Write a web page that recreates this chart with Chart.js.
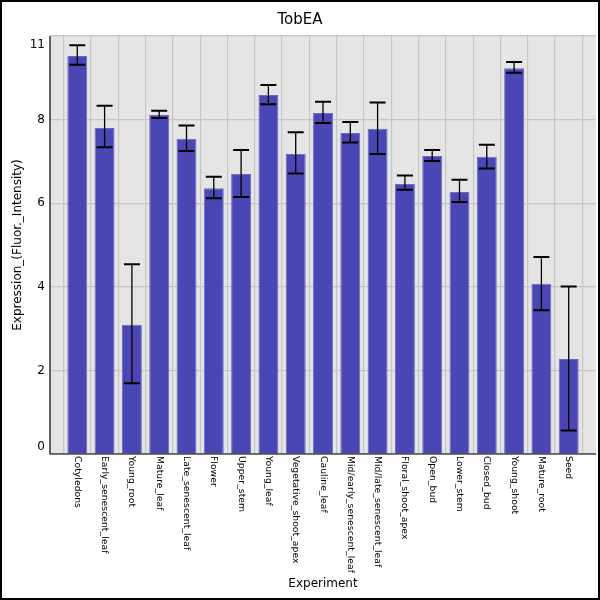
<!DOCTYPE html>
<html><head><meta charset="utf-8">
<script src="https://cdn.jsdelivr.net/npm/chart.js@4/dist/chart.umd.min.js"></script>
<style>html,body{margin:0;padding:0;background:#fff}canvas{display:block}</style>
</head><body>
<canvas id="c" width="600" height="600"></canvas>
<script>
const categories = ['Cotyledons','Early_senescent_leaf','Young_root','Mature_leaf','Late_senescent_leaf','Flower','Upper_stem','Young_leaf','Vegetative_shoot_apex','Cauline_leaf','Mid/early_senescent_leaf','Mid/late_senescent_leaf','Floral_shoot_apex','Open_bud','Lower_stem','Closed_bud','Young_shoot','Mature_root','Seed'];
const values   = [9.52, 7.80, 3.09, 8.11, 7.54, 6.36, 6.70, 8.59, 7.18, 8.16, 7.68, 7.78, 6.46, 7.13, 6.27, 7.11, 9.23, 4.07, 2.27];
const errUpper = [9.78, 8.33, 4.54, 8.21, 7.86, 6.63, 7.27, 8.83, 7.70, 8.43, 7.94, 8.41, 6.66, 7.27, 6.56, 7.40, 9.38, 4.71, 4.01];
const errLower = [9.31, 7.34, 1.69, 8.04, 7.25, 6.12, 6.15, 8.37, 6.71, 7.92, 7.45, 7.18, 6.32, 7.01, 6.03, 6.83, 9.12, 3.44, 0.56];
const yTickValues = [0, 2, 4, 6, 8, 10];
const yTickLabels = ['0', '2', '4', '6', '8', '11'];
const chartTitle = 'TobEA';
const xTitle = 'Experiment';
const yTitle = 'Expression_(Fluor._Intensity)';

const FONT = '"DejaVu Sans", sans-serif';
const points = values.map((v, i) => ({x: i + 1, y: v}));

const deco = {
  id: 'deco',
  beforeDraw(chart) {
    const {ctx, chartArea: a} = chart;
    ctx.save();
    ctx.fillStyle = '#ffffff';
    ctx.fillRect(0, 0, chart.width, chart.height);
    ctx.fillStyle = '#e5e5e5';
    ctx.fillRect(a.left, a.top, a.right - a.left, a.bottom - a.top);
    ctx.restore();
  },
  afterDatasetsDraw(chart) {
    const {ctx, chartArea: a} = chart;
    const ys = chart.scales.y;
    const meta = chart.getDatasetMeta(0);
    ctx.save();
    ctx.strokeStyle = '#000';
    meta.data.forEach((bar, i) => {
      const x = bar.x;
      const yt = ys.getPixelForValue(errUpper[i]);
      const yb = ys.getPixelForValue(errLower[i]);
      ctx.lineWidth = 1.3;
      ctx.beginPath(); ctx.moveTo(x, yt); ctx.lineTo(x, yb); ctx.stroke();
      ctx.lineWidth = 2;
      ctx.beginPath();
      ctx.moveTo(x - 8, yt); ctx.lineTo(x + 8, yt);
      ctx.moveTo(x - 8, yb); ctx.lineTo(x + 8, yb);
      ctx.stroke();
    });
    // axis lines
    ctx.lineWidth = 1.2;
    ctx.beginPath();
    ctx.moveTo(a.left, a.top); ctx.lineTo(a.left, a.bottom); ctx.lineTo(a.right, a.bottom);
    ctx.stroke();
    ctx.restore();
  },
  afterDraw(chart) {
    const {ctx, chartArea: a} = chart;
    const xs = chart.scales.x, ys = chart.scales.y;
    ctx.save();
    ctx.fillStyle = '#000';
    // title
    ctx.font = '15px ' + FONT;
    ctx.textAlign = 'center'; ctx.textBaseline = 'middle';
    ctx.fillText(chartTitle, chart.width / 2, 20);
    // y tick labels
    ctx.font = '12px ' + FONT;
    ctx.textAlign = 'right'; ctx.textBaseline = 'middle';
    yTickValues.forEach((v, i) => {
      let y = ys.getPixelForValue(v);
      y = Math.min(Math.max(y, a.top + 9), a.bottom - 7);
      ctx.fillText(yTickLabels[i], a.left - 5, y);
    });
    // x tick labels rotated clockwise
    ctx.font = '9.3px ' + FONT;
    categories.forEach((c, i) => {
      const x = xs.getPixelForValue(i + 1);
      ctx.save();
      ctx.translate(x, a.bottom + 2);
      ctx.rotate(Math.PI / 2);
      ctx.textAlign = 'left'; ctx.textBaseline = 'middle';
      ctx.fillText(c, 0, 0);
      ctx.restore();
    });
    // axis titles
    ctx.font = '12px ' + FONT;
    ctx.textAlign = 'center'; ctx.textBaseline = 'middle';
    ctx.fillText(xTitle, (a.left + a.right) / 2, 584);
    ctx.save();
    ctx.translate(18, (a.top + a.bottom) / 2);
    ctx.rotate(-Math.PI / 2);
    ctx.fillText(yTitle, 0, 0);
    ctx.restore();
    // frame
    ctx.strokeStyle = '#000';
    ctx.lineWidth = 2;
    ctx.strokeRect(1, 1, chart.width - 2, chart.height - 2);
    ctx.restore();
  }
};

new Chart(document.getElementById('c'), {
  type: 'bar',
  data: {
    datasets: [{
      data: points,
      backgroundColor: '#4a46b3',
      borderColor: '#6d69c4',
      borderWidth: 1,
      barPercentage: 0.73,
      categoryPercentage: 1
    }]
  },
  options: {
    responsive: false,
    devicePixelRatio: 1,
    animation: false,
    layout: {padding: {left: 50, top: 36, right: 4, bottom: 146}},
    plugins: {legend: {display: false}, tooltip: {enabled: false}, title: {display: false}},
    scales: {
      x: {
        type: 'linear', min: 0, max: 20, offset: false,
        afterBuildTicks: s => { s.ticks = Array.from({length: 21}, (_, i) => ({value: i})); },
        ticks: {display: false},
        grid: {color: '#c6c6c6', lineWidth: 1.2, drawTicks: false},
        border: {display: false}
      },
      y: {
        min: 0, max: 10,
        afterBuildTicks: s => { s.ticks = yTickValues.map(v => ({value: v})); },
        ticks: {display: false},
        grid: {color: '#c6c6c6', lineWidth: 1.2, drawTicks: false},
        border: {display: false}
      }
    }
  },
  plugins: [deco]
});
</script>
</body></html>
